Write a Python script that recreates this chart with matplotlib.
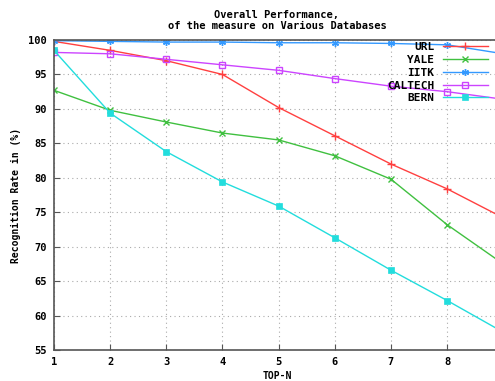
import matplotlib
matplotlib.use("Agg")
import matplotlib.pyplot as plt

top_n = [1, 2, 3, 4, 5, 6, 7, 8, 9]
url = [99.8, 98.5, 97.0, 95.0, 90.2, 86.1, 82.0, 78.4, 74.2]
yale = [92.7, 89.8, 88.1, 86.5, 85.5, 83.2, 79.8, 73.2, 67.5]
iitk = [99.9, 99.8, 99.7, 99.7, 99.6, 99.6, 99.5, 99.3, 98.0]
caltech = [98.2, 98.0, 97.2, 96.4, 95.6, 94.4, 93.3, 92.5, 91.4]
bern = [98.5, 89.4, 83.8, 79.4, 75.9, 71.3, 66.6, 62.2, 57.6]

xticks = [1, 2, 3, 4, 5, 6, 7, 8]
yticks = [55, 60, 65, 70, 75, 80, 85, 90, 95, 100]

plt.rcParams['font.family'] = ['DejaVu Sans Mono']
plt.rcParams['font.weight'] = 'bold'

fig = plt.figure(figsize=(4.95, 3.81), dpi=100)
ax = fig.add_axes([0.109, 0.081, 0.901, 0.814])

ax.plot(top_n, url, color='#ff4040', marker='+', ms=6, mew=1, lw=1, label='URL')
ax.plot(top_n, yale, color='#40c040', marker='x', ms=5, mew=1, lw=1, label='YALE')
ax.plot(top_n, iitk, color='#3399ff', marker=(6, 2, 0), ms=5, mew=1, lw=1, label='IITK')
ax.plot(top_n, caltech, color='#cc44ff', marker='s', ms=5, mfc='none', mew=1, lw=1, label='CALTECH')
ax.plot(top_n, bern, color='#22dddd', marker='s', ms=5, mew=0.5, lw=1, label='BERN')

ax.set_xlim(1, 8.94)
ax.set_ylim(55, 100)
ax.set_xticks(xticks)
ax.set_yticks(yticks)
ax.tick_params(direction='in', length=4, labelsize=7.5, width=0.8, color='#555555', pad=5)
for lab in ax.get_xticklabels() + ax.get_yticklabels():
    lab.set_fontweight('bold')
ax.grid(True, color='#aaaaaa', linestyle=(0, (1, 3)), lw=0.8)
for s in ['left', 'bottom', 'top']:
    ax.spines[s].set_color('#555555')
    ax.spines[s].set_linewidth(1.2)
ax.spines['right'].set_visible(False)

ax.set_xlabel('TOP-N', fontsize=7, fontweight='bold', labelpad=3)
ax.set_ylabel('Recognition Rate in (%)', fontsize=7, fontweight='bold', labelpad=5)
ax.set_title('Overall Performance,\nof the measure on Various Databases', fontsize=7.5,
             fontweight='bold', pad=8, linespacing=1.1)

leg = ax.legend(loc='upper right', bbox_to_anchor=(0.99, 1.018), frameon=False, markerfirst=False,
                fontsize=8, handlelength=4.0, labelspacing=0.25, borderpad=0.2, handletextpad=0.8)
for t in leg.get_texts():
    t.set_fontweight('bold')
    t.set_ha('right')

fig.savefig('out.png', dpi=100)
